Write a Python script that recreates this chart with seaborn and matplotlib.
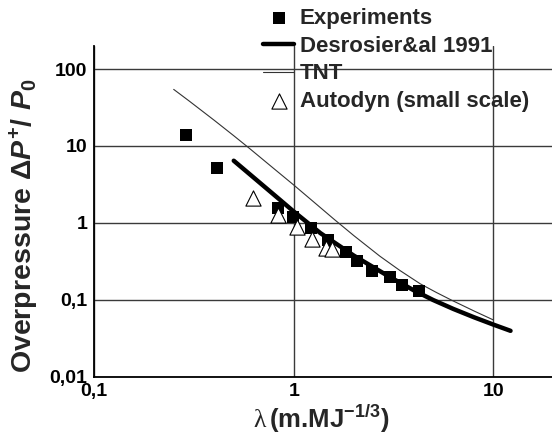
import matplotlib
matplotlib.use("Agg")
import matplotlib.pyplot as plt
import seaborn as sns
from matplotlib.ticker import FixedLocator, LogLocator, FuncFormatter, NullFormatter

# Measured overpressure vs. scaled distance
exp_lambda = [0.289, 0.412, 0.836, 0.987, 1.216, 1.49, 1.83, 2.08, 2.48, 3.03, 3.47, 4.26]
exp_dp = [13.9, 5.1, 1.55, 1.19, 0.853, 0.60, 0.411, 0.321, 0.236, 0.195, 0.157, 0.128]

# Desrosier et al. 1991 correlation
des_lambda = [0.5, 0.6, 0.8, 1.0, 1.36, 2.0, 3.0, 4.0, 5.0, 6.3, 8.0, 10.0, 12.2]
des_dp = [6.43, 4.31, 2.29, 1.4, 0.734, 0.374, 0.2, 0.132, 0.0988, 0.0758, 0.059, 0.0474, 0.0393]

# TNT reference curve
tnt_lambda = [0.25, 0.3, 0.4, 0.5, 0.6, 0.8, 1.0, 1.3, 1.6, 2.0, 2.7, 3.4, 4.3, 5.2, 6.2, 8.0, 10.0]
tnt_dp = [54.5, 38.2, 21.5, 13.6, 9.28, 5.0, 3.1, 1.74, 1.1, 0.681, 0.368, 0.24, 0.161,
          0.1235, 0.098, 0.0713, 0.0545]

# Autodyn small-scale simulations
aut_lambda = [0.627, 0.836, 1.04, 1.24, 1.45, 1.55]
aut_dp = [2.09, 1.27, 0.879, 0.62, 0.469, 0.455]

x_ticks = [0.1, 1, 10]
y_ticks = [0.01, 0.1, 1, 10, 100]

sns.set_theme(style="white")
plt.rcParams['font.family'] = ['Liberation Sans', 'DejaVu Sans']
plt.rcParams['font.weight'] = 'bold'
plt.rcParams['mathtext.fontset'] = 'custom'
plt.rcParams['mathtext.rm'] = 'Liberation Sans:bold'
plt.rcParams['mathtext.it'] = 'Liberation Sans:italic:bold'
plt.rcParams['mathtext.bf'] = 'Liberation Sans:bold'
plt.rcParams['mathtext.sf'] = 'Liberation Serif:normal'

fig = plt.figure(figsize=(5.52, 4.34), dpi=100)
ax = fig.add_axes([94.3 / 552, (434 - 376.5) / 434, (552 - 94.3) / 552, (376.5 - 46) / 434])

sns.scatterplot(x=exp_lambda, y=exp_dp, marker='s', s=72, color='black',
                edgecolor='black', linewidth=0, label='Experiments', ax=ax, zorder=4)
sns.lineplot(x=des_lambda, y=des_dp, color='black', lw=3.2, sort=False, estimator=None,
             label='Desrosier&al 1991', ax=ax, zorder=3)
sns.lineplot(x=tnt_lambda, y=tnt_dp, color='#333333', lw=0.8, sort=False, estimator=None,
             label='TNT', ax=ax, zorder=3)
sns.scatterplot(x=aut_lambda, y=aut_dp, marker='^', s=120, color='white',
                edgecolor='black', linewidth=0.8, label='Autodyn (small scale)', ax=ax, zorder=5)

ax.set_xscale('log')
ax.set_yscale('log')
ax.set_xlim(0.1, 10 ** (-1 + (552 - 94.3) / 199.5))
ax.set_ylim(0.01, 200)

fmt = FuncFormatter(lambda v, p: f"{v:g}".replace('.', ','))
ax.xaxis.set_major_locator(FixedLocator(x_ticks))
ax.yaxis.set_major_locator(FixedLocator(y_ticks))
ax.xaxis.set_major_formatter(fmt)
ax.yaxis.set_major_formatter(fmt)
ax.xaxis.set_minor_locator(LogLocator(base=10, subs=range(2, 10)))
ax.yaxis.set_minor_locator(LogLocator(base=10, subs=range(2, 10)))
ax.xaxis.set_minor_formatter(NullFormatter())
ax.yaxis.set_minor_formatter(NullFormatter())

ax.tick_params(axis='both', which='both', direction='in', colors='black',
               labelsize=14, width=1)
ax.tick_params(axis='x', which='major', length=0, pad=5)
ax.tick_params(axis='y', which='major', length=4, pad=5)
ax.tick_params(which='minor', length=4, width=0.8)
for lab in ax.get_xticklabels() + ax.get_yticklabels():
    lab.set_fontweight('bold')

ax.grid(True, which='major', color='#3a3a3a', lw=1)
for side in ['top', 'right']:
    ax.spines[side].set_visible(False)
for side in ['left', 'bottom']:
    ax.spines[side].set_color('black')
    ax.spines[side].set_linewidth(1.3)

ax.set_xlabel(r'$\mathsf{\lambda}\,$(m.MJ$^{-1/3}$)', fontsize=18.5, fontweight='bold')
ax.xaxis.set_label_coords(0.495, -0.08)
ax.set_ylabel(r'Overpressure $\Delta P^{+}/\ P_{0}$', fontsize=20.5, fontweight='bold')
ax.yaxis.set_label_coords(-0.116, 0.455)

handles, labels = ax.get_legend_handles_labels()
leg = ax.legend(handles, labels, loc='upper left', bbox_to_anchor=(263 / 552, 1 - 8 / 434),
                bbox_transform=fig.transFigure, frameon=False, fontsize=16,
                handlelength=1.4, handletextpad=0.25, labelspacing=0.3,
                borderpad=0, borderaxespad=0)
for t in leg.get_texts():
    t.set_fontweight('bold')
leg.set_zorder(10)

fig.savefig('out.png', dpi=100)
